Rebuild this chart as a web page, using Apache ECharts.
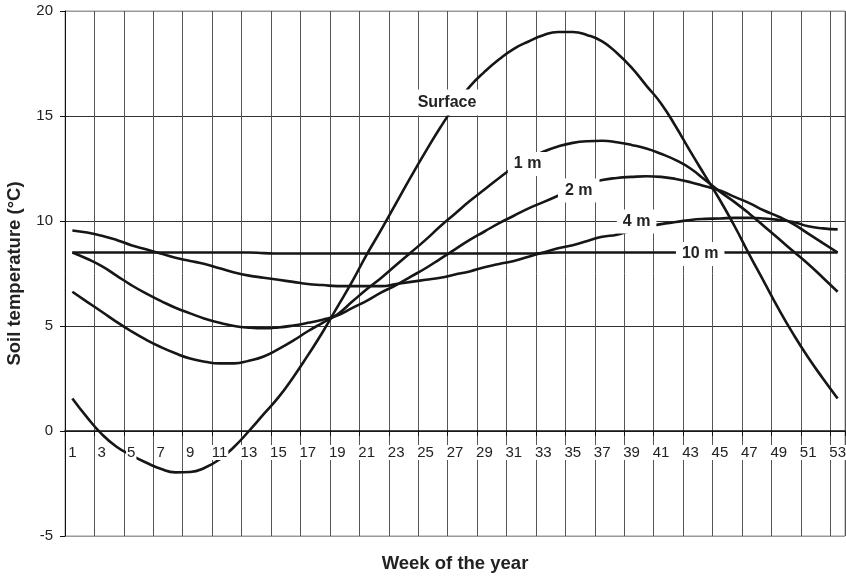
<!DOCTYPE html>
<html><head><meta charset="utf-8">
<script src="https://cdn.jsdelivr.net/npm/echarts@6/dist/echarts.min.js"></script>
<style>html,body{margin:0;padding:0;background:#fff}#c{width:846px;height:577px}</style>
</head><body><div id="c"></div>
<script>
const weeks = ['1','2','3','4','5','6','7','8','9','10','11','12','13','14','15','16','17','18','19','20',
  '21','22','23','24','25','26','27','28','29','30','31','32','33','34','35','36','37','38','39','40',
  '41','42','43','44','45','46','47','48','49','50','51','52','53'];
const yTicks = [-5, 0, 5, 10, 15, 20];

const surface = [1.55,0.65,-0.15,-0.75,-1.15,-1.5,-1.8,-1.97,-1.95,-1.75,-1.35,-0.75,0.0,0.8,1.6,2.55,3.6,4.7,5.9,7.1,
  8.4,9.6,10.85,12.1,13.3,14.45,15.5,16.4,17.1,17.7,18.2,18.55,18.85,19.0,19.0,18.85,18.55,18.0,17.3,16.45,
  15.6,14.5,13.3,12.15,11.0,9.75,8.4,7.1,5.8,4.6,3.5,2.5,1.55];
const depth1m = [6.63,6.15,5.68,5.2,4.75,4.35,4.0,3.7,3.45,3.3,3.22,3.22,3.35,3.55,3.9,4.3,4.75,5.15,5.55,6.15,
  6.75,7.3,7.9,8.5,9.1,9.75,10.35,10.95,11.5,12.05,12.55,12.95,13.3,13.55,13.72,13.8,13.82,13.75,13.62,13.45,
  13.2,12.9,12.5,11.95,11.4,10.9,10.35,9.75,9.15,8.55,7.95,7.3,6.63];
const depth2m = [8.5,8.2,7.85,7.4,6.95,6.55,6.2,5.87,5.6,5.35,5.15,5.0,4.92,4.89,4.93,5.02,5.15,5.3,5.5,5.85,
  6.2,6.6,6.95,7.35,7.75,8.2,8.65,9.1,9.5,9.9,10.25,10.6,10.9,11.2,11.5,11.75,11.95,12.05,12.1,12.13,
  12.1,12.0,11.85,11.65,11.45,11.15,10.85,10.5,10.2,9.85,9.4,8.95,8.5];
const depth4m = [9.55,9.45,9.3,9.1,8.85,8.65,8.45,8.25,8.1,7.95,7.75,7.55,7.4,7.3,7.2,7.1,7.0,6.95,6.9,6.9,
  6.9,6.9,7.0,7.1,7.2,7.3,7.45,7.6,7.8,7.95,8.1,8.3,8.5,8.7,8.85,9.05,9.25,9.35,9.55,9.7,
  9.85,9.95,10.05,10.1,10.12,10.15,10.15,10.12,10.05,9.95,9.75,9.65,9.6];
const depth10m = [8.5,8.5,8.5,8.5,8.5,8.5,8.5,8.5,8.5,8.5,8.5,8.5,8.5,8.47,8.45,8.45,8.45,8.45,8.45,8.45,
  8.45,8.45,8.45,8.45,8.45,8.45,8.45,8.45,8.45,8.45,8.45,8.45,8.47,8.5,8.5,8.5,8.5,8.5,8.5,8.5,
  8.5,8.5,8.5,8.5,8.5,8.5,8.5,8.5,8.5,8.5,8.5,8.5,8.5];

const seriesNames = ['Surface', '1 m', '2 m', '4 m', '10 m'];
const seriesValues = [surface, depth1m, depth2m, depth4m, depth10m];

// where each in-line label sits (index into weeks) and its pixel nudge
const labelPlacement = [
  {idx: 26, offset: [-8, -3], padding: [5, 6]},
  {idx: 31, offset: [-1, 5], padding: [4, 6]},
  {idx: 34, offset: [6, 1], padding: [4, 7]},
  {idx: 38, offset: [5, -9], padding: [4, 6]},
  {idx: 43, offset: [-5, 1.5], padding: [4, 6]}
];

const FONT = 'Liberation Sans, Arial, sans-serif';

const series = seriesNames.map(function (name, s) {
  const lp = labelPlacement[s];
  const data = seriesValues[s].map(function (v, i) {
    if (i !== lp.idx) return v;
    return {
      value: v,
      symbol: 'circle',
      symbolSize: 2,
      itemStyle: {color: 'rgba(0,0,0,0)', borderWidth: 0},
      label: {
        show: true, position: 'inside', formatter: name, offset: lp.offset,
        fontFamily: FONT, fontSize: 16, fontWeight: 'bold', color: '#222',
        backgroundColor: '#fff', padding: lp.padding
      }
    };
  });
  return {
    name: name, type: 'line', data: data, smooth: true,
    symbol: 'none', showAllSymbol: true,
    lineStyle: {color: '#161616', width: 2.6},
    emphasis: {disabled: true}, silent: true
  };
});

const chart = echarts.init(document.getElementById('c'), null, {renderer: 'canvas'});
chart.setOption({
  animation: false,
  backgroundColor: '#fff',
  grid: {left: 65, right: 1, top: 11, bottom: 41, show: true, borderColor: '#999', borderWidth: 1,
    containLabel: false, outerBoundsMode: 'none'},
  xAxis: [
    {
      type: 'category', data: weeks, boundaryGap: true, position: 'bottom',
      axisLine: {show: true, onZero: true, onZeroAxisIndex: 0, lineStyle: {color: '#111', width: 1.5}},
      axisTick: {show: true, interval: 1, length: 5, lineStyle: {color: '#111'}},
      axisLabel: {show: false},
      splitLine: {show: true, interval: 1, lineStyle: {color: '#555', width: 1}}
    },
    {
      type: 'category', data: weeks, boundaryGap: true, position: 'bottom', z: 10, offset: -105,
      axisLine: {show: false, onZero: false},
      axisTick: {show: false}, splitLine: {show: false},
      axisLabel: {show: true, interval: 1, margin: 14, fontFamily: FONT, fontSize: 15, color: '#222',
        backgroundColor: '#fff', padding: [0, 1]},
      name: 'Week of the year', nameLocation: 'middle', nameGap: 123,
      nameTextStyle: {fontFamily: FONT, fontSize: 18.5, fontWeight: 'bold', color: '#222'}
    }
  ],
  yAxis: {
    type: 'value', min: yTicks[0], max: yTicks[yTicks.length - 1], interval: 5,
    axisLine: {show: true, lineStyle: {color: '#111', width: 1}},
    axisTick: {show: true, length: 5, lineStyle: {color: '#111'}},
    axisLabel: {margin: 12, fontFamily: FONT, fontSize: 15, color: '#222'},
    splitLine: {show: true, lineStyle: {color: ['#999', '#333', '#333', '#333', '#333', '#999'], width: 1}},
    name: 'Soil temperature (°C)', nameLocation: 'middle', nameGap: 41,
    nameTextStyle: {fontFamily: FONT, fontSize: 18.5, fontWeight: 'bold', color: '#222'}
  },
  series: series
});
</script></body></html>
